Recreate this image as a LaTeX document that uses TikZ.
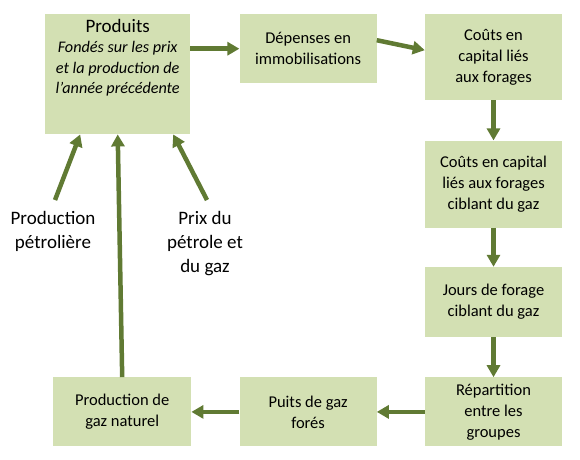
\documentclass[tikz,border=0pt]{standalone}
\usepackage{fontspec}
\setmainfont{Carlito}
\usepackage{xcolor}
\usetikzlibrary{arrows.meta,positioning}
\definecolor{boxgreen}{HTML}{D3E0B3}
\definecolor{arrowgreen}{HTML}{607A33}
\tikzstyle{block} = [rectangle, fill=boxgreen, align=center, inner sep=2pt,
    font=\fontsize{16.5}{21}\selectfont]
\tikzstyle{line} = [draw=arrowgreen, line width=4.5pt, -{Triangle[length=12pt,width=13pt]}]
\tikzstyle{source} = [align=center, inner sep=0pt, font=\fontsize{19}{24}\selectfont]

\begin{document}
\begin{tikzpicture}[x=1pt,y=-1pt]
    \useasboundingbox (0,0) rectangle (580,459);
    % Top row
    \node [block, minimum width=145pt, minimum height=120pt, anchor=north west] (prod) at (45,14) {};
    \node [anchor=north, inner sep=0pt, align=center, font=\fontsize{16.2}{20.5}\selectfont] (prodtext)
        at ([yshift=-5pt]prod.north) {{\fontsize{19}{20.5}\selectfont Produits}\\
        \textit{Fondés sur les prix}\\ \textit{et la production de}\\ \textit{l’année précédente}};
    \node [block, minimum width=137pt, minimum height=69pt] (dep)
        [right=49pt of prod.north east, anchor=north west] {Dépenses en\\immobilisations};
    \node [block, minimum width=137pt, minimum height=86pt] (cost)
        [right=48pt of dep.north east, anchor=north west] {Coûts en\\capital liés\\aux forages};

    % Right column
    \node [block, minimum width=137pt, minimum height=87pt] (costgas) [below=40pt of cost]
        {Coûts en capital\\liés aux forages\\ciblant du gaz};
    \node [block, minimum width=137pt, minimum height=70pt] (days) [below=39pt of costgas]
        {Jours de forage\\ciblant du gaz};
    \node [block, minimum width=137pt, minimum height=69pt] (split) [below=40pt of days]
        {Répartition\\entre les\\groupes};

    % Bottom row
    \node [block, minimum width=137pt, minimum height=69pt] (wells) [left=48pt of split]
        {Puits de gaz\\forés};
    \node [block, minimum width=138pt, minimum height=69pt] (prodgas) [left=48pt of wells]
        {Production de\\gaz naturel};

    % Inputs
    \node [source, anchor=north] (oilprod) at (53,211) {Production\\pétrolière};
    \node [source, anchor=north] (prices) at (205,211) {Prix du\\pétrole et\\du gaz};

    % Connect everything
    \path [line] (prod.east |- dep.west) -- (dep.west);
    \path [line] ([yshift=8.5pt]dep.east) -- ([yshift=7pt]cost.west);
    \path [line] (cost) -- (costgas);
    \path [line] (costgas) -- (days);
    \path [line] (days) -- (split);
    \path [line] (split) -- (wells);
    \path [line] (wells) -- (prodgas);
    \path [line] (prodgas.north) -- (prod.south);
    \path [line] ([xshift=2pt,yshift=11pt]oilprod.north) -- ([xshift=-37.5pt]prod.south);
    \path [line] ([xshift=2pt,yshift=11pt]prices.north) -- ([xshift=55.5pt]prod.south);
\end{tikzpicture}
\end{document}
